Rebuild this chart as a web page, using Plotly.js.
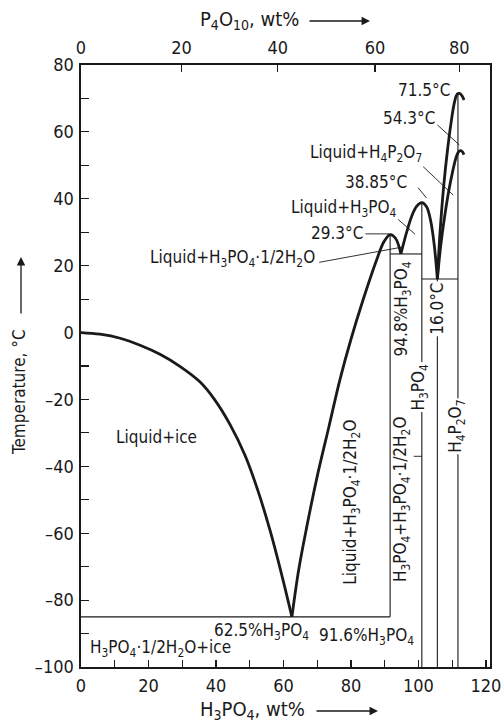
<!DOCTYPE html>
<html>
<head>
<meta charset="utf-8">
<script src="https://cdn.plot.ly/plotly-3.0.1.min.js"></script>
<style>
  html, body { margin: 0; padding: 0; background: #fff; }
  #chart { width: 502px; height: 725px; }
</style>
</head>
<body>
<div id="chart"></div>
<script>
// Phase diagram of the H3PO4 / H2O system (temperatures in °C, composition in wt% H3PO4)

// Liquidus of ice
const iceX = [0, 5.6, 11.6, 17.5, 23.4, 29.3, 35.3, 39.7, 44.1, 48.6, 52.4, 56.0, 59.3, 62.5];
const iceT = [0, -0.5, -1.7, -3.8, -6.5, -10.1, -14.8, -20.2, -27.4, -36.7, -47.2, -59.1, -71.7, -85];

// Liquidus of the hemihydrate H3PO4·1/2H2O
const hemiX = [62.5, 64.5, 66.9, 70.0, 73.5, 76.7, 80.0, 83.5, 87.6, 89.8, 91.6, 93.2, 94.8];
const hemiT = [-85, -71, -58.1, -43, -28, -14.2, -2, 9.5, 21.7, 27.2, 29.3, 28.2, 23.5];

// Liquidus of H3PO4
const acidX = [94.8, 96.5, 98.0, 99.5, 101.0, 102.4, 103.6, 104.7, 105.6];
const acidT = [23.5, 30.0, 34.8, 37.8, 38.85, 37.6, 33.5, 26.0, 16.0];

// Liquidus of H4P2O7 (stable form, 71.5 °C)
const pyroX = [105.6, 106.4, 107.5, 108.6, 109.7, 110.7, 111.5, 112.2, 112.9, 113.5];
const pyroT = [16.0, 30.0, 44.0, 54.5, 63.0, 69.0, 71.3, 71.5, 70.8, 69.5];

// Liquidus of H4P2O7 (metastable form, 54.3 °C)
const pyroMetaX = [105.6, 106.6, 107.8, 109.0, 110.2, 111.2, 112.0, 112.8, 113.5];
const pyroMetaT = [16.0, 26.0, 35.0, 42.5, 48.5, 52.5, 54.2, 54.3, 53.2];

// Invariant (eutectic) temperatures and their composition ranges
const eutecticT = [-85, 23.5, 16.0];
const eutecticFrom = [0, 91.6, 101.0];
const eutecticTo = [91.6, 101.0, 111.7];

// Solid compounds: composition, top and bottom of the vertical line
const compoundX = [91.6, 101.0, 105.6, 111.7];
const compoundTop = [29.3, 38.85, 16.0, 71.5];
const compoundBottom = [-85, -100, -100, -100];

// Axis ticks
const h3po4Ticks = [0, 20, 40, 60, 80, 100, 120];
const tempTicks = [-100, -80, -60, -40, -20, 0, 20, 40, 60, 80];
const p4o10Labels = ['0', '20', '40', '60', '80'];
const p4o10At = [0, 29.8, 58.3, 87.1, 112.1];   // positions on the H3PO4 scale

const FONT = '"DejaVu Sans Condensed", "DejaVu Sans", sans-serif';
const INK = '#1a1a1a';

const curve = (x, y) => ({
  x, y, type: 'scatter', mode: 'lines', hoverinfo: 'skip', showlegend: false,
  line: { color: INK, width: 2.8, shape: 'spline', smoothing: 1.0 }
});
const thin = (x, y) => ({
  x, y, type: 'scatter', mode: 'lines', hoverinfo: 'skip', showlegend: false,
  line: { color: INK, width: 1.1 }
});

const traces = [
  curve(iceX, iceT),
  curve(hemiX, hemiT),
  curve(acidX, acidT),
  curve(pyroX, pyroT),
  curve(pyroMetaX, pyroMetaT)
];
eutecticT.forEach((t, i) => traces.push(thin([eutecticFrom[i], eutecticTo[i]], [t, t])));
compoundX.forEach((c, i) => traces.push(thin([c, c], [compoundBottom[i], compoundTop[i]])));
// carries the upper (P4O10) axis
traces.push({ x: [null], y: [null], xaxis: 'x2', yaxis: 'y', type: 'scatter', mode: 'lines', showlegend: false, hoverinfo: 'skip' });

const L = 81, R = 490, T0 = 65, B0 = 667;
const px = v => (v - L) / (R - L);
const py = v => (B0 - v) / (B0 - T0);

const H3 = 'H<sub>3</sub>PO<sub>4</sub>';
const HEMI = H3 + '·1/2H<sub>2</sub>O';
const PYRO = 'H<sub>4</sub>P<sub>2</sub>O<sub>7</sub>';

const lbl = (x, y, text, extra) => Object.assign({
  x, y, xref: 'x', yref: 'y', text, showarrow: false,
  xanchor: 'center', yanchor: 'middle',
  font: { family: FONT, size: 17, color: INK }
}, extra || {});

const caption = (x, y, text, extra) => Object.assign({
  x: px(x), y: py(y), xref: 'paper', yref: 'paper', text, showarrow: false,
  xanchor: 'center', yanchor: 'middle',
  font: { family: FONT, size: 20, color: INK }
}, extra || {});

const arrow = (x, y, ax, ay) => ({
  x: px(x), y: py(y), xref: 'paper', yref: 'paper', text: '', showarrow: true,
  ax, ay, arrowhead: 2, arrowsize: 1.3, arrowwidth: 1.3, arrowcolor: INK, standoff: 0
});

const annotations = [
  lbl(22.5, -31.3, 'Liquid+ice'),
  lbl(53.6, -89.3, '62.5%' + H3),
  lbl(84.7, -90.8, '91.6%' + H3),
  lbl(23.7, -94.4, HEMI + '+ice'),
  lbl(80.3, -50.6, 'Liquid+' + HEMI, { textangle: -90 }),
  lbl(95.2, -50.0, H3 + '+' + HEMI, { textangle: -90 }),
  lbl(95.2, 7.0, '94.8%' + H3, { textangle: -90 }),
  lbl(100.3, -16.3, H3, { textangle: -90, bgcolor: '#fff' }),
  lbl(105.4, 7.0, '16.0°C', { textangle: -90, bgcolor: '#fff' }),
  lbl(111.3, -28.0, PYRO, { textangle: -90, bgcolor: '#fff' }),
  lbl(45.0, 22.0, 'Liquid+' + HEMI),
  lbl(75.8, 29.7, '29.3°C'),
  lbl(78.0, 37.2, 'Liquid+' + H3),
  lbl(87.4, 45.1, '38.85°C'),
  lbl(84.4, 53.6, 'Liquid+' + PYRO),
  lbl(97.2, 64.1, '54.3°C'),
  lbl(101.6, 72.5, '71.5°C'),

  // axis captions with arrows
  caption(249, 20, 'P<sub>4</sub>O<sub>10</sub>, wt%'),
  arrow(370, 21, -62, 0),
  caption(252, 710, H3 + ', wt%'),
  arrow(378, 711, -63, 0),
  caption(19, 392, 'Temperature, °C', { textangle: -90, font: { family: FONT, size: 17, color: INK } }),
  arrow(21, 257, 0, 58)
];

// leader lines from labels to their regions
const leaders = [
  [84.3, 29.5, 91.3, 29.5],
  [94.0, 33.8, 99.0, 29.4],
  [99.9, 43.3, 102.4, 40.2],
  [101.4, 49.6, 110.3, 41.1],
  [105.6, 62.1, 112.1, 56.1],
  [70.6, 21.0, 95.4, 25.6],
  [98.6, -37.0, 101.0, -37.0]
];
const shapes = leaders.map(s => ({
  type: 'line', xref: 'x', yref: 'y', x0: s[0], y0: s[1], x1: s[2], y1: s[3],
  line: { color: INK, width: 0.9 }
}));

const axisFont = { family: FONT, size: 18, color: INK };

const layout = {
  width: 502, height: 725,
  margin: { l: L, r: 502 - R, t: T0, b: 725 - B0, pad: 0 },
  paper_bgcolor: '#fff', plot_bgcolor: '#fff',
  showlegend: false,
  xaxis: {
    range: [0, 121.2], tickmode: 'array', tickvals: h3po4Ticks,
    ticks: 'inside', ticklen: 7, tickwidth: 1.2, tickcolor: INK,
    minor: { tickmode: 'linear', tick0: 0, dtick: 10, ticks: 'inside', ticklen: 7, tickwidth: 1.2, tickcolor: INK },
    showline: true, linecolor: INK, linewidth: 1.6, mirror: true,
    showgrid: false, zeroline: false, tickfont: axisFont, ticklabelstandoff: 2
  },
  xaxis2: {
    overlaying: 'x', side: 'top', anchor: 'y', range: [0, 121.2],
    tickmode: 'array', tickvals: p4o10At, ticktext: p4o10Labels,
    ticks: 'inside', ticklen: 7, tickwidth: 1.2, tickcolor: INK,
    showline: true, linecolor: INK, linewidth: 1.6,
    showgrid: false, zeroline: false, tickfont: axisFont, ticklabelstandoff: 2
  },
  yaxis: {
    range: [-100, 80], tickmode: 'array', tickvals: tempTicks,
    ticktext: tempTicks.map(t => t < 0 ? '\u2013' + Math.abs(t) : String(t)),
    ticks: 'inside', ticklen: 8, tickwidth: 1.2, tickcolor: INK,
    minor: { tickmode: 'linear', tick0: 0, dtick: 10, ticks: 'inside', ticklen: 8, tickwidth: 1.2, tickcolor: INK },
    showline: true, linecolor: INK, linewidth: 1.6, mirror: true,
    showgrid: false, zeroline: false, tickfont: axisFont, ticklabelstandoff: 2
  },
  annotations, shapes
};

Plotly.newPlot('chart', traces, layout, { staticPlot: true, displayModeBar: false });
</script>
</body>
</html>
